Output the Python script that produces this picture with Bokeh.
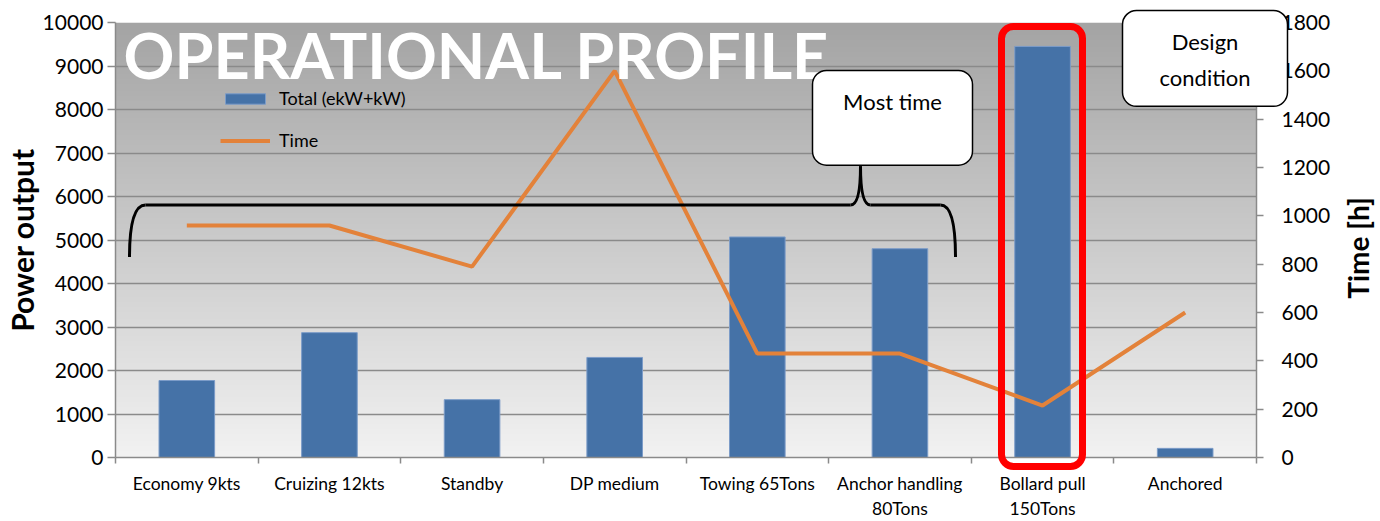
import numpy as np
from bokeh.plotting import figure
from bokeh.models import (Range1d, LinearAxis, FixedTicker, Legend, LegendItem,
                          Label, BoxAnnotation)
from bokeh.core.properties import value
from bokeh.embed import file_html
from bokeh.resources import INLINE

# ---------------- data ----------------
categories = ["Economy 9kts", "Cruizing 12kts", "Standby", "DP medium",
              "Towing 65Tons", "Anchor handling\n80Tons", "Bollard pull\n150Tons", "Anchored"]
power = [1770, 2870, 1330, 2300, 5070, 4800, 9450, 210]
time_h = [960, 960, 790, 1600, 430, 430, 215, 600]
power_ticks = [0, 1000, 2000, 3000, 4000, 5000, 6000, 7000, 8000, 9000, 10000]
time_ticks = [0, 200, 400, 600, 800, 1000, 1200, 1400, 1600, 1800]

# ---------------- layout ----------------
W, H = 1380, 521
FL, FR, FT, FB = 115, 1256, 22, 458
N = len(categories)
centers = [i + 0.5 for i in range(N)]
FONT = "Lato"
GRID = "#8A8A8A"


def px2x(px):
    return (px - FL) / (FR - FL) * N


def py2y(py):
    return (FB - py) / (FB - FT) * 10000


p = figure(width=W, height=H, x_range=Range1d(0, N), y_range=Range1d(0, 10000),
           output_backend="svg", toolbar_location=None,
           min_border_left=FL, min_border_right=W - FR,
           min_border_top=FT, min_border_bottom=H - FB)
p.extra_y_ranges = {"time": Range1d(0, 1800)}
p.outline_line_color = None
p.background_fill_color = "white"
p.border_fill_color = "white"

# gradient plot-area background
g = np.linspace(0xF2, 0xA4, 256).astype(np.uint32)
img = np.zeros((256, 1), dtype=np.uint32)
view = img.view(dtype=np.uint8).reshape((256, 1, 4))
view[:, 0, 0] = g
view[:, 0, 1] = g
view[:, 0, 2] = g
view[:, 0, 3] = 255
p.image_rgba(image=[img], x=0, y=0, dw=N, dh=10000, level="image")

# bars and line
bars = p.vbar(x=centers, top=power, width=0.39, fill_color="#4572A7",
              line_color="#7C9CC8", line_width=1)
line = p.line(x=centers, y=time_h, y_range_name="time", line_color="#E3823A",
              line_width=4)

# axes
p.xaxis.ticker = FixedTicker(ticks=centers, minor_ticks=list(range(N + 1)))
p.xaxis.major_label_overrides = {c: lab for c, lab in zip(centers, categories)}
p.xaxis.major_tick_line_color = None
p.xaxis.minor_tick_in = 0
p.xaxis.minor_tick_out = 6
p.xaxis.minor_tick_line_color = GRID
p.xaxis.minor_tick_line_width = 1.5
p.xaxis.axis_line_color = GRID
p.xaxis.axis_line_width = 1.5
p.xaxis.major_label_text_font = FONT
p.xaxis.major_label_text_font_size = "17.5px"
p.xaxis.major_label_text_color = "black"
p.xaxis.major_label_standoff = 9

p.yaxis.ticker = FixedTicker(ticks=power_ticks)
p.yaxis.axis_label = "Power output"
p.yaxis.axis_label_text_font = FONT
p.yaxis.axis_label_text_font_style = "bold"
p.yaxis.axis_label_text_font_size = "30px"
p.yaxis.axis_label_text_color = "black"
p.yaxis.axis_label_standoff = 0
p.yaxis.major_label_text_font = FONT
p.yaxis.major_label_text_font_size = "21px"
p.yaxis.major_label_text_color = "black"
p.yaxis.major_label_standoff = 4
p.yaxis.major_tick_in = 0
p.yaxis.major_tick_out = 8
p.yaxis.major_tick_line_color = GRID
p.yaxis.major_tick_line_width = 1.5
p.yaxis.minor_tick_line_color = None
p.yaxis.axis_line_color = GRID
p.yaxis.axis_line_width = 1.5

ry = LinearAxis(y_range_name="time", ticker=FixedTicker(ticks=time_ticks))
ry.major_label_text_font = FONT
ry.major_label_text_font_size = "21px"
ry.major_label_text_color = "black"
ry.major_label_standoff = 18
ry.major_tick_in = 0
ry.major_tick_out = 7
ry.major_tick_line_color = GRID
ry.major_tick_line_width = 1.5
ry.minor_tick_line_color = None
ry.axis_line_color = GRID
ry.axis_line_width = 1.5
p.add_layout(ry, "right")

p.xgrid.grid_line_color = None
p.ygrid.ticker = FixedTicker(ticks=power_ticks)
p.ygrid.grid_line_color = GRID
p.ygrid.grid_line_width = 1.5

# legend
legend = Legend(items=[LegendItem(label="Total (ekW+kW)", renderers=[bars]),
                       LegendItem(label="Time", renderers=[line])],
                location=(105, 306), orientation="vertical",
                glyph_width=50, glyph_height=13, spacing=20, padding=0, margin=0,
                label_standoff=9, label_text_font=FONT, label_text_font_size="18px",
                label_text_color="black", label_height=13,
                background_fill_alpha=0, border_line_color=None)
p.add_layout(legend)

# title inside plot area
p.add_layout(Label(x=px2x(123), y=py2y(54), text="OPERATIONAL PROFILE",
                   text_font=FONT, text_font_style="bold", text_font_size="63px",
                   text_color="white", text_baseline="middle"))

# curly brace
BR = dict(line_color="black", line_width=3)
p.quadratic(x0=[px2x(129)], y0=[py2y(257)], x1=[px2x(145)], y1=[py2y(205)],
            cx=[px2x(129)], cy=[py2y(205)], **BR)
p.segment(x0=[px2x(145)], y0=[py2y(205)], x1=[px2x(850)], y1=[py2y(205)], **BR)
p.quadratic(x0=[px2x(850)], y0=[py2y(205)], x1=[px2x(860)], y1=[py2y(166)],
            cx=[px2x(860)], cy=[py2y(205)], **BR)
p.quadratic(x0=[px2x(860)], y0=[py2y(166)], x1=[px2x(870)], y1=[py2y(205)],
            cx=[px2x(860)], cy=[py2y(205)], **BR)
p.segment(x0=[px2x(870)], y0=[py2y(205)], x1=[px2x(940)], y1=[py2y(205)], **BR)
p.quadratic(x0=[px2x(940)], y0=[py2y(205)], x1=[px2x(955)], y1=[py2y(257)],
            cx=[px2x(955)], cy=[py2y(205)], **BR)

# "Most time" call-out
p.add_layout(BoxAnnotation(left=px2x(812), right=px2x(972), top=py2y(70), bottom=py2y(165),
                           fill_color="white", fill_alpha=1, line_color="black",
                           line_alpha=1, line_width=1.5, border_radius=14, level="overlay"))
p.add_layout(Label(x=px2x(892), y=py2y(101), text="Most time", text_font=FONT,
                   text_font_size="22px", text_align="center", text_baseline="middle",
                   text_color="black", level="overlay"))

# overlay-level glyphs (drawn unclipped, may leave the frame)
p.quad(left=[px2x(1122)], right=[px2x(1287)], top=[py2y(10)], bottom=[py2y(106)],
       fill_color="white", line_color="black", line_width=1.5, border_radius=14,
       level="overlay")
p.text(x=[px2x(1204.5)], y=[py2y(59)], text=["Design\ncondition"],
       text_font=value(FONT), text_font_size="22px", text_align="center",
       text_baseline="middle", text_color="black", text_line_height=1.35,
       level="overlay")
p.quad(left=[px2x(1001)], right=[px2x(1082)], top=[py2y(26)], bottom=[py2y(467)],
       fill_color=None, line_color="#FF0000", line_width=7, border_radius=12,
       level="overlay")
p.text(x=[px2x(1357)], y=[py2y(248)], text=["Time [h]"], angle=np.pi / 2,
       text_font=value(FONT), text_font_style="bold", text_font_size="28px",
       text_color="black", text_align="center", text_baseline="middle",
       level="overlay")

open("out.html", "w").write(file_html(p, INLINE))
